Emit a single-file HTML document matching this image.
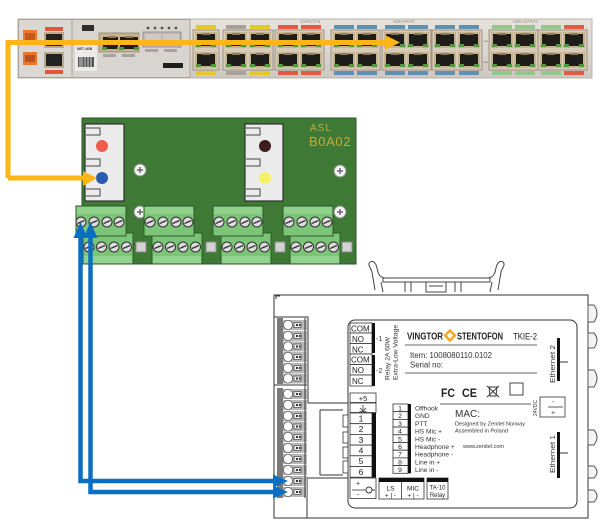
<!DOCTYPE html>
<html><head><meta charset="utf-8"><style>
html,body{margin:0;padding:0;background:#fff;width:604px;height:530px;overflow:hidden}
svg{display:block}
text{font-family:"Liberation Sans",sans-serif}
</style></head><body>
<svg width="604" height="530" viewBox="0 0 604 530" xmlns="http://www.w3.org/2000/svg">
<defs>
<linearGradient id="rk" x1="0" y1="0" x2="0" y2="1">
<stop offset="0" stop-color="#e6e2dc"/><stop offset="0.5" stop-color="#dcd7d0"/><stop offset="1" stop-color="#cdc8c0"/>
</linearGradient>
<g id="pt"><rect width="22" height="16" fill="#c7b48e"/><rect x="2" y="2" width="18" height="12" fill="#1f1d1a"/><rect x="1" y="12" width="5" height="3" fill="#4f9a40"/><rect x="16" y="12" width="5" height="3" fill="#4f9a40"/><rect x="7" y="1" width="8" height="2" fill="#8a7b60"/></g>
<g id="sc"><circle r="5" fill="#dcdcdc" stroke="#2f2f2f" stroke-width="1"/><line x1="-3.5" y1="1.5" x2="3.5" y2="-1.5" stroke="#333" stroke-width="1.3"/></g>
<g id="scw"><circle r="6" fill="#f2f2f2" stroke="#8a8a8a" stroke-width="1"/><path d="M-3 0H3M0 -3V3" stroke="#666" stroke-width="1.4"/></g>
<g id="tm"><rect x="-5" y="-5" width="24" height="10" fill="#b9b9b9"/><circle r="4.6" fill="#fff" stroke="#555" stroke-width="0.8"/><rect x="6" y="-2.5" width="7" height="5" fill="#eee" stroke="#444" stroke-width="0.7"/><rect x="8" y="-1" width="2" height="2" fill="#333"/><rect x="11" y="-1" width="1.5" height="2" fill="#333"/></g>
</defs>

<!-- ================= RACK ================= -->
<rect x="18" y="19" width="574" height="59" fill="url(#rk)" stroke="#b9b2a8"/>
<rect x="18.5" y="19.5" width="53.5" height="58" fill="#dbd8d3" stroke="#aaa39a"/>
<rect x="72" y="19.5" width="118" height="58" fill="#d8d5d0" stroke="#aaa39a"/>
<!-- left module -->
<rect x="23" y="30" width="14" height="12" fill="#ef7a30"/>
<rect x="25" y="33" width="10" height="7" fill="#c85a1e"/>
<rect x="23" y="52" width="14" height="13" fill="#ea7430"/>
<rect x="25" y="55" width="10" height="7" fill="#b94f1a"/>
<rect x="45" y="27" width="18" height="4" fill="#e4563c"/>
<rect x="45" y="70" width="18" height="4" fill="#e4563c"/>
<rect x="44" y="32" width="20" height="16" fill="#b9aa8c"/><rect x="46" y="34" width="16" height="12" fill="#222"/>
<rect x="44" y="52" width="20" height="16" fill="#b9aa8c"/><rect x="46" y="54" width="16" height="12" fill="#222"/>
<!-- middle module -->
<rect x="82" y="25" width="12" height="6" fill="#2e2e2e"/>
<rect x="99" y="33" width="40" height="19" fill="#c2b08f" stroke="#9c8f78"/>
<use href="#pt" x="101" y="35"/><use href="#pt" x="118" y="35" />
<rect x="143" y="32" width="38" height="15" fill="#bdb8b0" stroke="#9a948b"/>
<rect x="145" y="34" width="16" height="11" fill="#cfcbc4"/><rect x="163" y="34" width="16" height="11" fill="#cfcbc4"/>
<circle cx="148" cy="28" r="1.4" fill="#555"/><circle cx="155" cy="28" r="1.4" fill="#555"/><circle cx="162" cy="28" r="1.4" fill="#555"/><circle cx="169" cy="28" r="1.4" fill="#555"/><circle cx="176" cy="28" r="1.4" fill="#555"/>
<rect x="103" y="54" width="13" height="3" fill="#a8a39c"/><rect x="122" y="54" width="13" height="3" fill="#a8a39c"/>
<rect x="145" y="49" width="13" height="3" fill="#a8a39c"/><rect x="164" y="49" width="13" height="3" fill="#a8a39c"/>
<rect x="75" y="44" width="22" height="27" fill="#ecebe8"/>
<text x="77" y="50" font-size="3.5" font-weight="bold" fill="#333">NET-4GB</text>
<rect x="78" y="57" width="16" height="10" fill="#555"/><path d="M80 57V67M82 57V67M85 57V67M88 57V67M91 57V67" stroke="#eee" stroke-width="0.8"/>
<rect x="163" y="63" width="20" height="5" fill="#1e1e1e"/>
<!-- main port groups -->
<g fill="#d6ccb9" stroke="#9d9282">
<rect x="193" y="30" width="26" height="40"/>
<rect x="223" y="30" width="50" height="40"/>
<rect x="275" y="30" width="49" height="40"/>
<rect x="331" y="30" width="49" height="40"/>
<rect x="382" y="30" width="49" height="40"/>
<rect x="432" y="30" width="50" height="40"/>
<rect x="489" y="30" width="49" height="40"/>
<rect x="538" y="30" width="49" height="40"/>
</g>
<g>
<use href="#pt" x="195" y="32"/><use href="#pt" x="195" y="52"/>
<use href="#pt" x="225" y="32"/><use href="#pt" x="225" y="52"/><use href="#pt" x="249" y="32"/><use href="#pt" x="249" y="52"/>
<use href="#pt" x="277" y="32"/><use href="#pt" x="277" y="52"/><use href="#pt" x="300" y="32"/><use href="#pt" x="300" y="52"/>
<use href="#pt" x="333" y="32"/><use href="#pt" x="333" y="52"/><use href="#pt" x="356" y="32"/><use href="#pt" x="356" y="52"/>
<use href="#pt" x="384" y="32"/><use href="#pt" x="384" y="52"/><use href="#pt" x="407" y="32"/><use href="#pt" x="407" y="52"/>
<use href="#pt" x="434" y="32"/><use href="#pt" x="434" y="52"/><use href="#pt" x="458" y="32"/><use href="#pt" x="458" y="52"/>
<use href="#pt" x="491" y="32"/><use href="#pt" x="491" y="52"/><use href="#pt" x="514" y="32"/><use href="#pt" x="514" y="52"/>
<use href="#pt" x="540" y="32"/><use href="#pt" x="540" y="52"/><use href="#pt" x="563" y="32"/><use href="#pt" x="563" y="52"/>
</g>
<!-- labels -->
<g>
<rect x="196" y="25" width="20" height="4" fill="#e9c62c"/><rect x="196" y="71" width="20" height="4" fill="#e9c62c"/>
<rect x="226" y="25" width="20" height="4" fill="#a8a199"/><rect x="250" y="25" width="20" height="4" fill="#e9c62c"/>
<rect x="226" y="71" width="20" height="4" fill="#a8a199"/><rect x="250" y="71" width="20" height="4" fill="#e9c62c"/>
<rect x="278" y="25" width="20" height="4" fill="#e35a3e"/><rect x="301" y="25" width="20" height="4" fill="#e35a3e"/>
<rect x="278" y="71" width="20" height="4" fill="#e35a3e"/><rect x="301" y="71" width="20" height="4" fill="#e35a3e"/>
<g fill="#5e92b5">
<rect x="334" y="25" width="20" height="4"/><rect x="357" y="25" width="20" height="4"/><rect x="385" y="25" width="20" height="4"/><rect x="408" y="25" width="20" height="4"/><rect x="435" y="25" width="20" height="4"/><rect x="459" y="25" width="20" height="4"/>
<rect x="334" y="71" width="20" height="4"/><rect x="357" y="71" width="20" height="4"/><rect x="385" y="71" width="20" height="4"/><rect x="408" y="71" width="20" height="4"/><rect x="435" y="71" width="20" height="4"/><rect x="459" y="71" width="20" height="4"/>
</g>
<g fill="#8fc98b">
<rect x="492" y="25" width="20" height="4"/><rect x="515" y="25" width="20" height="4"/><rect x="541" y="25" width="20" height="4"/>
<rect x="492" y="71" width="20" height="4"/><rect x="515" y="71" width="20" height="4"/><rect x="541" y="71" width="20" height="4"/>
</g>
<rect x="564" y="25" width="20" height="4" fill="#e35a3e"/><rect x="564" y="71" width="20" height="4" fill="#e35a3e"/>
</g>
<text x="300" y="22.5" font-size="3" fill="#666">CONTACTS IN</text>
<text x="393" y="22.5" font-size="3" fill="#666">AUDIO INPUTS</text>
<text x="513" y="22.5" font-size="3" fill="#666">AUDIO OUTPUTS</text>
<text x="484" y="42" font-size="3" fill="#666">A ▸</text>
<text x="484" y="63" font-size="3" fill="#666">B ▸</text>

<!-- ================= GREEN BOARD ================= -->
<rect x="82" y="118" width="274" height="146" fill="#3e7a36" stroke="#2b5526"/>
<!-- left jack -->
<rect x="85" y="124" width="39" height="77" fill="#ebebeb" stroke="#2e2e2e" stroke-width="1.2"/>
<g fill="none" stroke="#444" stroke-width="1">
<path d="M86 128H100V135H86"/><path d="M86 159H100V166H86"/><path d="M86 189H100V196H86"/>
<path d="M246 128H260V135H246"/><path d="M246 159H260V166H246"/><path d="M246 189H260V196H246"/>
</g>
<circle cx="102" cy="146" r="6" fill="#f05d4e"/>
<circle cx="102" cy="178" r="6" fill="#2a5cae"/>
<!-- right jack -->
<rect x="245" y="124" width="38" height="77" fill="#ebebeb" stroke="#2e2e2e" stroke-width="1.2"/>
<path d="M246 128H260V135H246M246 159H260V166H246M246 189H260V196H246" fill="none" stroke="#444"/>
<circle cx="265" cy="146" r="6" fill="#3b1e1b"/>
<circle cx="265" cy="178" r="6" fill="#f6f163"/>
<text x="310" y="131" font-size="10" fill="#c3ab3e" font-family="Liberation Mono, monospace" letter-spacing="1">ASL</text>
<text x="309" y="146" font-size="13" fill="#c3ab3e" font-family="Liberation Mono, monospace" letter-spacing="0.6">B0A02</text>
<use href="#scw" x="140" y="170"/><use href="#scw" x="140" y="212"/>
<use href="#scw" x="340" y="171"/><use href="#scw" x="340" y="212"/>
<!-- bottom row terminal blocks -->
<g stroke="#2f5c2b" stroke-width="1">
<rect x="83" y="233" width="50" height="31" fill="#7cc478"/>
<rect x="152" y="233" width="50" height="31" fill="#7cc478"/>
<rect x="221" y="233" width="50" height="31" fill="#7cc478"/>
<rect x="290" y="233" width="50" height="31" fill="#7cc478"/>
</g>
<g fill="#92d48d"><rect x="84" y="256" width="48" height="7"/><rect x="153" y="256" width="48" height="7"/><rect x="222" y="256" width="48" height="7"/><rect x="291" y="256" width="48" height="7"/></g>
<g>
<use href="#sc" x="89" y="247"/><use href="#sc" x="101.5" y="247"/><use href="#sc" x="114" y="247"/><use href="#sc" x="126.5" y="247"/>
<use href="#sc" x="158" y="247"/><use href="#sc" x="170.5" y="247"/><use href="#sc" x="183" y="247"/><use href="#sc" x="195.5" y="247"/>
<use href="#sc" x="227" y="247"/><use href="#sc" x="239.5" y="247"/><use href="#sc" x="252" y="247"/><use href="#sc" x="264.5" y="247"/>
<use href="#sc" x="296" y="247"/><use href="#sc" x="308.5" y="247"/><use href="#sc" x="321" y="247"/><use href="#sc" x="333.5" y="247"/>
</g>
<g fill="#d2d2d2" stroke="#8a8a8a">
<rect x="136" y="242" width="10" height="10"/><rect x="206" y="242" width="10" height="10"/><rect x="275" y="242" width="10" height="10"/><rect x="342" y="242" width="10" height="10"/>
</g>
<!-- top row terminal blocks -->
<g stroke="#2f5c2b" stroke-width="1">
<rect x="76" y="206" width="50" height="30" fill="#7cc478"/>
<rect x="144" y="206" width="50" height="30" fill="#7cc478"/>
<rect x="213" y="206" width="50" height="30" fill="#7cc478"/>
<rect x="283" y="206" width="50" height="30" fill="#7cc478"/>
</g>
<g fill="#8fd18a"><rect x="77" y="207" width="48" height="7"/><rect x="145" y="207" width="48" height="7"/><rect x="214" y="207" width="48" height="7"/><rect x="284" y="207" width="48" height="7"/></g>
<g>
<use href="#sc" x="81" y="222"/><use href="#sc" x="94" y="222"/><use href="#sc" x="107" y="222"/><use href="#sc" x="119" y="222"/>
<use href="#sc" x="150" y="222"/><use href="#sc" x="163" y="222"/><use href="#sc" x="176" y="222"/><use href="#sc" x="188" y="222"/>
<use href="#sc" x="219" y="222"/><use href="#sc" x="232" y="222"/><use href="#sc" x="245" y="222"/><use href="#sc" x="257" y="222"/>
<use href="#sc" x="289" y="222"/><use href="#sc" x="302" y="222"/><use href="#sc" x="315" y="222"/><use href="#sc" x="327" y="222"/>
</g>

<!-- ================= TKIE-2 ================= -->
<!-- DIN clip -->
<g fill="none" stroke="#444" stroke-width="1">
<rect x="383" y="278" width="107" height="4"/>
<path d="M386 278C380 278 378 274 377 268C376 263 373 260 370 262C367 265 371 268 372 272L375 290"/>
<path d="M381 282L383 292"/>
<path d="M487 278C493 278 495 274 496 268C497 263 500 260 503 262C506 265 502 268 501 272L498 290"/>
<path d="M492 282L490 292"/>
<path d="M405 282V292M411 282V292M455 282V292M461 282V292"/>
<rect x="426" y="282" width="20" height="10"/>
<path d="M429 286H443"/>
</g>
<rect x="274" y="295" width="314" height="223" fill="#fff" stroke="#333" stroke-width="1"/>
<path d="M276 299V296H280" fill="none" stroke="#333"/>
<path d="M274 512V518M588 512V518" stroke="#333"/>
<!-- right side connectors -->
<g fill="#f4f4f4" stroke="#555" stroke-width="1">
<path d="M588 305H594Q600 313 594 322H588Z"/>
<path d="M588 333H594Q600 340 594 348H588Z"/>
<path d="M588 370H594Q600 378 594 387H588Z"/>
<path d="M588 430H594Q600 437 594 445H588Z"/>
<path d="M588 466H594Q600 472 594 478H588Z"/>
<path d="M588 490H594Q600 496 594 502H588Z"/>
</g>
<!-- left terminal strip -->
<g stroke="#333" stroke-width="1" fill="none">
<path d="M274 317H308V403H348"/>
<path d="M274 385H307"/>
<path d="M320 410V475M320 410H343M320 475H343"/>
<path d="M307 478H348M307 478V518"/>
</g>
<rect x="277" y="318" width="6" height="66" fill="#7a7a7a"/>
<rect x="277" y="388" width="6" height="110" fill="#7a7a7a"/>
<g>
<use href="#tm" x="288" y="325"/><use href="#tm" x="288" y="336"/><use href="#tm" x="288" y="346.5"/><use href="#tm" x="288" y="357"/><use href="#tm" x="288" y="368"/><use href="#tm" x="288" y="378.5"/>
<use href="#tm" x="288" y="394"/><use href="#tm" x="288" y="405"/><use href="#tm" x="288" y="416"/><use href="#tm" x="288" y="426.5"/><use href="#tm" x="288" y="437"/><use href="#tm" x="288" y="448"/><use href="#tm" x="288" y="459"/><use href="#tm" x="288" y="470"/><use href="#tm" x="288" y="481"/><use href="#tm" x="288" y="492"/>
</g>
<path d="M305 318V498" stroke="#333"/>
<!-- inner panel -->
<rect x="348" y="320" width="229" height="188" rx="7" fill="#fff" stroke="#333" stroke-width="1"/>
<g fill="#fff" stroke="#333" stroke-width="0.8">
<rect x="343" y="415" width="5" height="12"/><rect x="343" y="432" width="5" height="11"/><rect x="343" y="447" width="5" height="11"/><rect x="343" y="461" width="5" height="12"/>
</g>
<!-- relay -->
<g fill="#fff" stroke="#333" stroke-width="0.8">
<rect x="350" y="323" width="22" height="10"/><rect x="350" y="333" width="22" height="10.5"/><rect x="350" y="343.5" width="22" height="10.5"/>
<rect x="350" y="354" width="22" height="10.5"/><rect x="350" y="364.5" width="22" height="10.5"/><rect x="350" y="375" width="22" height="11"/>
</g>
<rect x="372" y="323" width="3" height="30" fill="#111"/>
<rect x="372" y="355" width="3" height="31" fill="#111"/>
<g font-size="8" fill="#222">
<text x="351" y="331.5">COM</text><text x="352" y="342">NO</text><text x="352" y="352.5">NC</text>
<text x="351" y="362.5">COM</text><text x="352" y="373">NO</text><text x="352" y="384">NC</text>
</g>
<text x="376" y="341" font-size="7" fill="#333">-1</text>
<text x="376" y="373" font-size="7" fill="#333">-2</text>
<text transform="translate(389.5 380) rotate(-90)" font-size="6.8" fill="#333">Relay 2A 60W</text>
<text transform="translate(397.5 380) rotate(-90)" font-size="6.8" fill="#333">Extra-Low Voltage</text>
<!-- logo -->
<text x="407" y="339.5" font-size="10" font-weight="bold" fill="#222" textLength="36" lengthAdjust="spacingAndGlyphs">VINGTOR</text>
<rect x="446.5" y="332" width="7" height="7" fill="none" stroke="#f4a51b" stroke-width="2.4" transform="rotate(45 450 335.5)"/>
<text x="457" y="339.5" font-size="10" font-weight="bold" fill="#222" textLength="46" lengthAdjust="spacingAndGlyphs">STENTOFON</text>
<text x="513" y="339.5" font-size="9" fill="#222" textLength="24" lengthAdjust="spacingAndGlyphs">TKIE-2</text>
<path d="M405 345H537M405 373H537" stroke="#333" stroke-width="0.8"/>
<text x="410" y="358" font-size="8" fill="#333" textLength="82" lengthAdjust="spacingAndGlyphs">Item: 1008080110.0102</text>
<text x="410" y="367.5" font-size="8" fill="#333" textLength="33" lengthAdjust="spacingAndGlyphs">Serial no:</text>
<!-- ethernet 2 -->
<rect x="557" y="338" width="3" height="43" fill="#111"/>
<path d="M560 362H568" stroke="#333"/>
<text transform="translate(555 383) rotate(-90)" font-size="7" fill="#333" textLength="38" lengthAdjust="spacingAndGlyphs">Ethernet 2</text>
<!-- marks -->
<text x="441" y="397" font-size="12" font-weight="bold" fill="#222" textLength="14" lengthAdjust="spacingAndGlyphs">FC</text>
<text x="462" y="397" font-size="12" font-weight="bold" fill="#222" textLength="15" lengthAdjust="spacingAndGlyphs">CE</text>
<g stroke="#333" stroke-width="0.9" fill="none">
<path d="M489 387H497L496 396H490Z"/><path d="M487 386L499 397M499 386L487 397"/>
<rect x="510" y="383" width="13" height="12"/>
</g>
<!-- 24VDC -->
<rect x="540" y="397" width="25" height="20" fill="#fff" stroke="#333" stroke-width="0.8"/>
<path d="M548 407H563" stroke="#333" stroke-width="0.8"/>
<text x="552" y="404" font-size="7" fill="#333">-</text>
<text x="551" y="415" font-size="7" fill="#333">+</text>
<text transform="translate(537 416) rotate(-90)" font-size="5" fill="#333">24VDC</text>
<path d="M440 404H531" stroke="#333" stroke-width="0.8"/>
<!-- +5 / ground / 1-6 -->
<g fill="#fff" stroke="#333" stroke-width="0.8">
<rect x="350" y="393" width="26" height="9.5"/><rect x="350" y="403" width="26" height="9.5"/>
<rect x="350" y="413" width="22" height="10.7"/><rect x="350" y="423.7" width="22" height="10.7"/><rect x="350" y="434.4" width="22" height="10.7"/>
<rect x="350" y="445.1" width="22" height="10.7"/><rect x="350" y="455.8" width="22" height="10.7"/><rect x="350" y="466.5" width="22" height="10.7"/>
<rect x="350" y="478" width="26" height="20.5"/>
</g>
<rect x="372" y="413" width="4" height="64.5" fill="#111"/>
<text x="363" y="401" font-size="7.5" fill="#222" text-anchor="middle">+5</text>
<path d="M363 405V410M360 408L363 411L366 408M359.5 411.5H366.5" stroke="#333" stroke-width="0.8" fill="none"/>
<g font-size="8.5" fill="#222" text-anchor="middle">
<text x="361" y="421.5">1</text><text x="361" y="432">2</text><text x="361" y="442.8">3</text>
<text x="361" y="453.5">4</text><text x="361" y="464.2">5</text><text x="361" y="475">6</text>
</g>
<text x="358" y="485.5" font-size="7" fill="#222" text-anchor="middle">+</text>
<text x="358" y="496.5" font-size="7" fill="#222" text-anchor="middle">-</text>
<path d="M352 490H366" stroke="#333" stroke-width="0.8"/>
<circle cx="369" cy="490" r="3" fill="none" stroke="#333" stroke-width="0.9"/>
<path d="M372 490H375" stroke="#333"/>
<!-- 1-9 block -->
<g fill="#fff" stroke="#333" stroke-width="0.8">
<rect x="393" y="404" width="15" height="7.7"/><rect x="393" y="411.7" width="15" height="7.7"/><rect x="393" y="419.4" width="15" height="7.7"/>
<rect x="393" y="427.1" width="15" height="7.7"/><rect x="393" y="434.8" width="15" height="7.7"/><rect x="393" y="442.5" width="15" height="7.7"/>
<rect x="393" y="450.2" width="15" height="7.7"/><rect x="393" y="457.9" width="15" height="7.7"/><rect x="393" y="465.6" width="15" height="7.7"/>
</g>
<rect x="408" y="404" width="3" height="69.3" fill="#111"/>
<g font-size="6.8" fill="#222" text-anchor="middle">
<text x="400" y="410.5">1</text><text x="400" y="418.2">2</text><text x="400" y="425.9">3</text><text x="400" y="433.6">4</text><text x="400" y="441.3">5</text>
<text x="400" y="449">6</text><text x="400" y="456.7">7</text><text x="400" y="464.4">8</text><text x="400" y="472.1">9</text>
</g>
<g font-size="6.6" fill="#333">
<text x="415" y="410.5">Offhook</text><text x="415" y="418.2">GND</text><text x="415" y="425.9">PTT</text><text x="415" y="433.6">HS Mic +</text><text x="415" y="441.3">HS Mic -</text>
<text x="415" y="449">Headphone +</text><text x="415" y="456.7">Headphone -</text><text x="415" y="464.4">Line in +</text><text x="415" y="472.1">Line in -</text>
</g>
<text x="455" y="417" font-size="10" fill="#333">MAC:</text>
<text x="455" y="425.5" font-size="5.6" fill="#333" textLength="70" lengthAdjust="spacingAndGlyphs">Designed by Zenitel Norway</text>
<text x="455" y="432.5" font-size="5.6" fill="#333" textLength="53" lengthAdjust="spacingAndGlyphs">Assembled in Poland</text>
<text x="463" y="448" font-size="5.6" fill="#333" textLength="41" lengthAdjust="spacingAndGlyphs">www.zenitel.com</text>
<!-- ethernet 1 -->
<rect x="557" y="432" width="3" height="46" fill="#111"/>
<path d="M560 453H568" stroke="#333"/>
<text transform="translate(555 473) rotate(-90)" font-size="7" fill="#333" textLength="38" lengthAdjust="spacingAndGlyphs">Ethernet 1</text>
<!-- bottom boxes -->
<g fill="#fff" stroke="#333" stroke-width="0.8">
<rect x="379" y="478" width="45" height="21"/><rect x="427" y="478" width="21" height="21"/>
</g>
<rect x="379" y="478" width="45" height="4" fill="#111"/>
<rect x="427" y="478" width="21" height="4" fill="#111"/>
<path d="M401.5 482V499" stroke="#333" stroke-width="0.8"/>
<g font-size="6.5" fill="#222" text-anchor="middle">
<text x="390.5" y="490.5">LS</text><text x="413" y="490.5">MIC</text>
<text x="437.5" y="489.5" font-size="6">TA-10</text><text x="437.5" y="497" font-size="6">Relay</text>
<text x="390.5" y="497.5">+ | -</text><text x="413" y="497.5">+ | -</text>
</g>

<!-- ================= CONNECTORS ================= -->
<g stroke="#fdb614" stroke-width="5" fill="none" stroke-linejoin="miter">
<path d="M8 178V42.5H386"/>
<path d="M8 178H84"/>
</g>
<polygon points="385,35 400,42.5 385,50" fill="#fdb614"/>
<polygon points="83,171 97,178 83,186" fill="#fdb614"/>

<g stroke="#0a6fc2" stroke-width="4.5" fill="none">
<path d="M80.5 236V481H274"/>
<path d="M90.5 236V492H274"/>
</g>
<polygon points="73.5,238 80.5,222 87.5,238" fill="#0a6fc2"/>
<polygon points="83.5,238 90.5,222 97.5,238" fill="#0a6fc2"/>
<polygon points="273,474.5 288,481 273,487.5" fill="#0a6fc2"/>
<polygon points="273,485.5 288,492 273,498.5" fill="#0a6fc2"/>
</svg>
</body></html>
